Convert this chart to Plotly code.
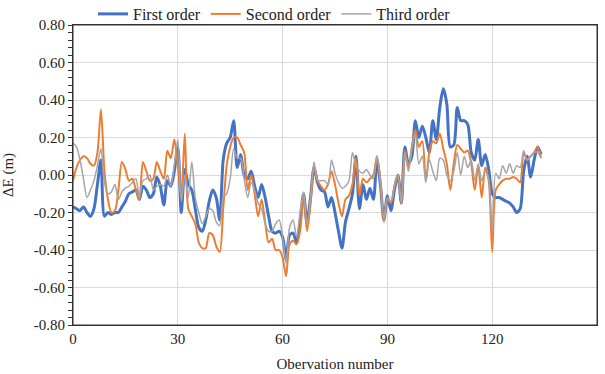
import plotly.graph_objects as go

obs = list(range(135))

first_order = [
    -0.17, -0.18, -0.19, -0.17, -0.20, -0.22, -0.18, -0.05, 0.08, -0.22,
    -0.20, -0.21, -0.20, -0.20, -0.17, -0.14, -0.10, -0.09, -0.08, -0.13,
    -0.06, -0.08, -0.12, -0.10, -0.01, -0.06, -0.16, -0.03, -0.06, 0.02,
    0.15, -0.20, 0.03, -0.05, -0.08, -0.18, -0.28, -0.30, -0.24, -0.14,
    -0.08, -0.12, -0.24, 0.08, 0.17, 0.20, 0.29, 0.04, 0.11, 0.00,
    -0.02, 0.02, -0.06, -0.12, -0.05, -0.12, -0.22, -0.30, -0.31, -0.30,
    -0.33, -0.45, -0.32, -0.31, -0.36, -0.25, -0.10, -0.25, -0.12, 0.04,
    -0.04, -0.08, -0.09, -0.17, -0.12, -0.20, -0.30, -0.39, -0.25, -0.18,
    -0.10, 0.10, -0.18, -0.05, -0.13, -0.07, -0.13, 0.08, -0.05, -0.24,
    -0.11, -0.19, -0.08, 0.00, -0.15, 0.15, 0.06, 0.10, 0.29, 0.20,
    0.26, 0.20, 0.12, 0.29, 0.19, 0.36, 0.46, 0.38, 0.15, 0.16,
    0.36, 0.29, 0.29, 0.27, 0.12, 0.08, 0.19, 0.05, 0.11, 0.03,
    -0.10, -0.12, -0.12, -0.13, -0.14, -0.15, -0.17, -0.20, -0.18, 0.02,
    0.10, -0.01, 0.08, 0.15, 0.11,
]

second_order = [
    -0.03, 0.04, 0.08, 0.10, 0.09, 0.06, 0.05, 0.12, 0.35, 0.02,
    -0.13, -0.20, -0.19, -0.08, 0.07, 0.03, -0.03, -0.02, -0.08, -0.13,
    0.07, 0.02, -0.03, -0.02, 0.07, 0.02, -0.02, 0.13, 0.09, 0.19,
    0.05, -0.12, 0.22, -0.18, -0.22, -0.26, -0.36, -0.39, -0.39, -0.31,
    -0.32, -0.38, -0.41, -0.18, 0.05, 0.15, 0.20, 0.20, 0.16, 0.12,
    -0.08, 0.00, -0.10, -0.22, -0.13, -0.25, -0.36, -0.34, -0.40, -0.40,
    -0.44, -0.54, -0.37, -0.35, -0.37, -0.30, -0.12, -0.30, -0.15, 0.04,
    -0.03, -0.06, -0.08, -0.05, 0.02, -0.05, -0.15, -0.22, -0.13, -0.11,
    -0.05, 0.09, -0.11, -0.02, -0.04, -0.02, 0.00, 0.10, -0.04, -0.25,
    -0.13, -0.15, -0.06, 0.00, -0.15, 0.13, 0.04, 0.15, 0.24, 0.15,
    0.18, -0.03, 0.12, 0.18, 0.17, 0.22, 0.14, 0.06, -0.08, 0.06,
    0.16, 0.14, 0.12, 0.13, 0.06, -0.08, 0.05, -0.12, 0.04, -0.03,
    -0.41, -0.08, -0.05, -0.03, -0.02, -0.02, -0.01, -0.02, -0.04, 0.12,
    0.08, 0.10, 0.12, 0.15, 0.09,
]

third_order = [
    0.17, 0.15, 0.08, -0.02, -0.12, -0.08, -0.03, 0.05, 0.14, -0.04,
    -0.10, -0.09, -0.05, -0.13, -0.09, -0.07, -0.06, -0.04, -0.02, -0.12,
    -0.03, -0.02, 0.00, -0.08, -0.06, -0.05, -0.06, 0.00, -0.06, 0.05,
    0.19, -0.14, 0.00, -0.12, 0.07, -0.12, -0.20, -0.26, -0.22, -0.18,
    -0.19, -0.25, -0.27, -0.12, -0.10, -0.02, 0.14, 0.09, 0.09, -0.02,
    -0.12, -0.04, -0.08, -0.15, -0.18, -0.26, -0.30, -0.30, -0.26, -0.24,
    -0.33, -0.47, -0.28, -0.24, -0.33, -0.20, -0.09, -0.26, -0.12, 0.07,
    -0.03, -0.03, -0.03, -0.05, 0.08, 0.01, -0.04, -0.07, -0.06, -0.03,
    0.12, 0.05, 0.02, 0.01, 0.03, 0.00, -0.02, 0.10, -0.02, -0.24,
    -0.12, -0.14, -0.06, 0.00, -0.15, 0.12, 0.02, 0.14, 0.22, 0.06,
    0.10, -0.04, 0.08, 0.02, -0.03, 0.09, 0.08, 0.00, -0.03, 0.02,
    0.12, 0.00, 0.10, 0.04, 0.08, -0.03, 0.06, -0.03, 0.02, -0.02,
    -0.30, 0.01, -0.02, 0.05, 0.01, 0.06, 0.01, 0.05, 0.04, 0.13,
    0.08, 0.10, 0.12, 0.12, 0.09,
]

x_ticks = [0, 30, 60, 90, 120, 150]
y_ticks = [-0.8, -0.6, -0.4, -0.2, 0.0, 0.2, 0.4, 0.6, 0.8]
y_tick_text = ["-0.80", "-0.60", "-0.40", "-0.20", "0.00", "0.20", "0.40", "0.60", "0.80"]

FONT = "Liberation Serif, Times New Roman, serif"

fig = go.Figure()
fig.add_trace(go.Scatter(x=obs, y=first_order, name="First order", mode="lines",
                         line=dict(color="#4472C4", width=3, shape="spline", smoothing=0.8)))
fig.add_trace(go.Scatter(x=obs, y=second_order, name="Second order", mode="lines",
                         line=dict(color="#ED7D31", width=2, shape="spline", smoothing=0.8)))
fig.add_trace(go.Scatter(x=obs, y=third_order, name="Third order", mode="lines",
                         line=dict(color="#A5A5A5", width=1.5, shape="spline", smoothing=0.8)))

# plot-area border
fig.add_shape(type="rect", xref="paper", yref="paper", x0=0, x1=1, y0=0, y1=1,
              line=dict(color="#333333", width=1), fillcolor="rgba(0,0,0,0)", layer="above")

fig.update_layout(
    width=605, height=374,
    margin=dict(l=73, r=8, t=25, b=49, autoexpand=False),
    paper_bgcolor="white", plot_bgcolor="white",
    font=dict(family=FONT, size=15, color="#222222"),
    legend=dict(orientation="h", xref="container", x=0.1537, xanchor="left",
                yref="container", y=0.9626, yanchor="middle",
                font=dict(family=FONT, size=16, color="#222222"),
                itemwidth=30, bgcolor="rgba(0,0,0,0)"),
    showlegend=True,
)
fig.update_xaxes(
    range=[0, 150], tickvals=x_ticks, showgrid=True, gridcolor="#D9D9D9", gridwidth=1,
    showline=True, linecolor="#333333", linewidth=1, mirror=True,
    ticks="", zeroline=False, automargin=False,
    tickfont=dict(family=FONT, size=15),
    title=dict(text="Obervation number", font=dict(family=FONT, size=15), standoff=12),
)
fig.update_yaxes(
    range=[-0.8, 0.8], tickvals=y_ticks, ticktext=y_tick_text,
    showgrid=True, gridcolor="#D9D9D9", gridwidth=1,
    showline=True, linecolor="#333333", linewidth=1, mirror=True,
    ticks="outside", ticklen=4, tickcolor="#333333", zeroline=False, automargin=False,
    minor=dict(dtick=0.04, ticks="outside", ticklen=4, tickcolor="#333333", showgrid=False),
    tickfont=dict(family=FONT, size=15),
    title=dict(text="ΔE (m)", font=dict(family=FONT, size=15), standoff=20),
)

fig.write_html("out.html", config={"displayModeBar": False},
               post_script="document.body.style.margin='0';")
